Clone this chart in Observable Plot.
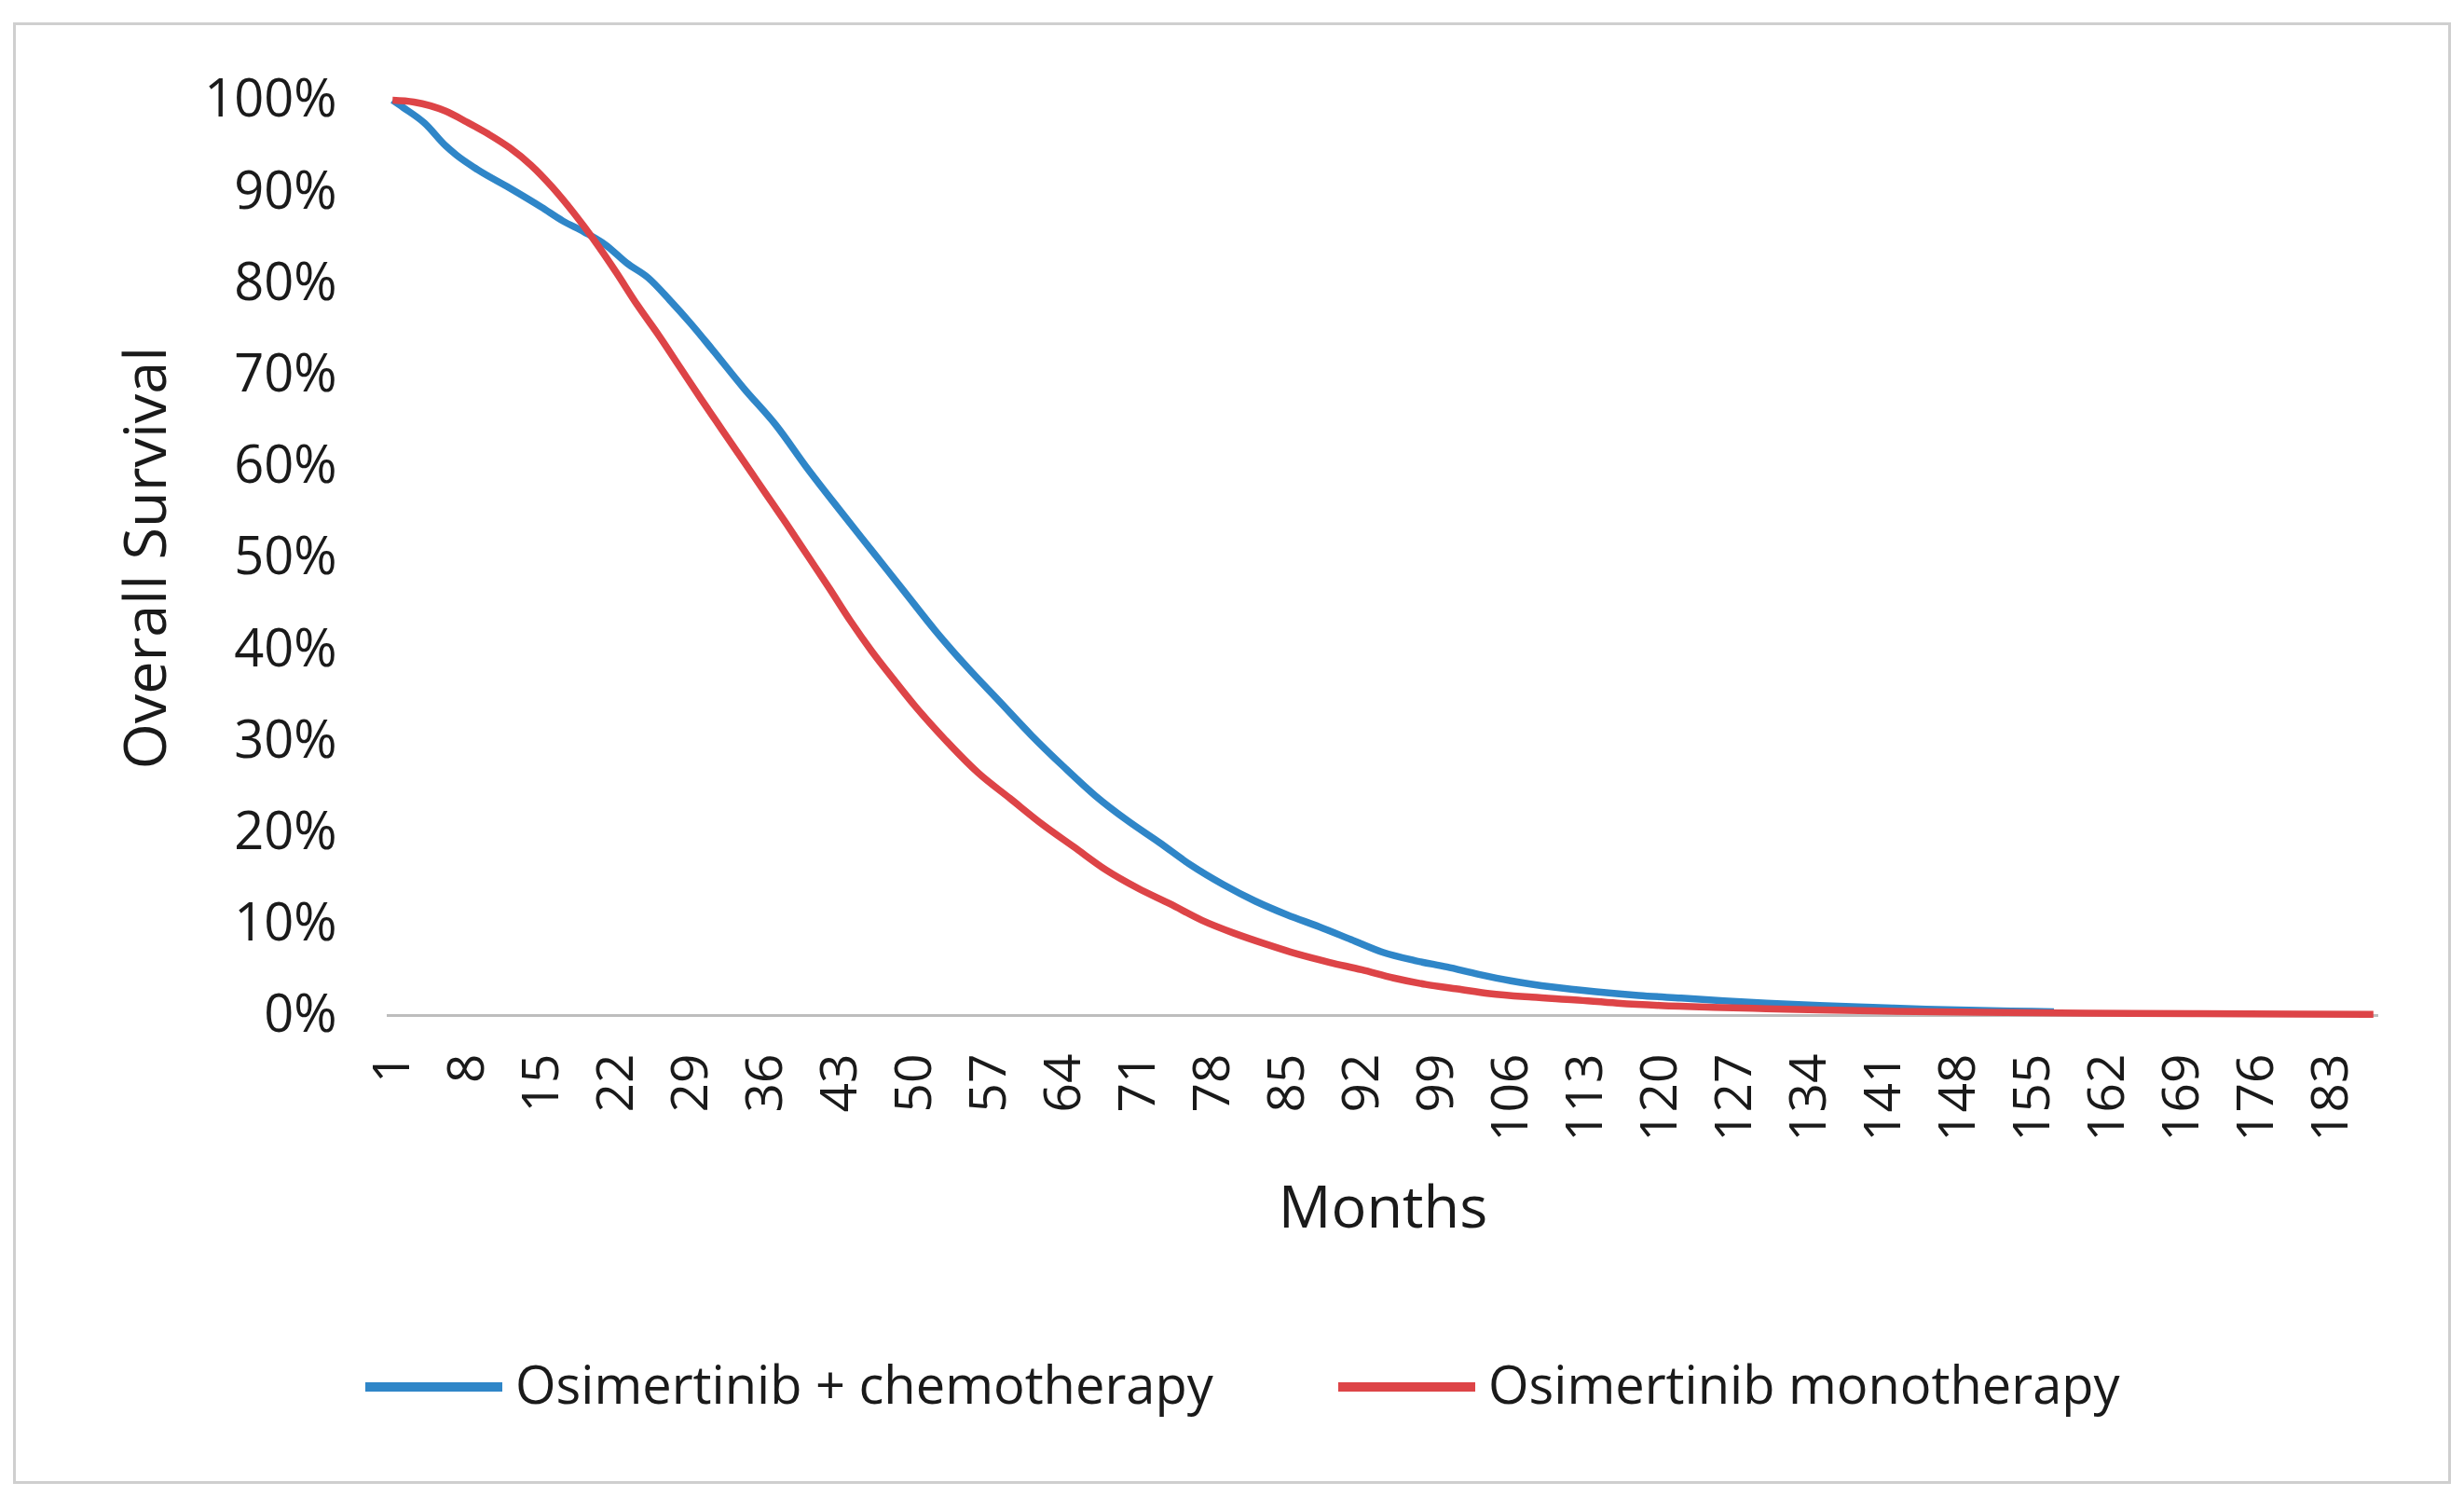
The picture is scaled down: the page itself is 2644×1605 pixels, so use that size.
<!DOCTYPE html>
<html><head><meta charset="utf-8">
<script src="https://cdn.jsdelivr.net/npm/d3@7"></script>
<script src="https://cdn.jsdelivr.net/npm/@observablehq/plot@0.6"></script>
<style>
html,body{margin:0;padding:0;background:#fff;}
#page{position:relative;width:2644px;height:1605px;overflow:hidden;font-family:"Open Sans",sans-serif;background:#fff;}
#frame{position:absolute;left:14px;top:24px;width:2616px;height:1568px;box-sizing:border-box;border:3px solid #cfcfcf;}
#chart{position:absolute;left:0;top:0;}
.lg-line{position:absolute;height:10px;width:147px;}
.lg-text{position:absolute;font-size:56px;line-height:56px;color:#1a1a1a;white-space:nowrap;font-family:"Open Sans",sans-serif;}
</style></head>
<body><div id="page"><div id="frame"></div><div id="chart"></div><div id="legend"></div></div>
<script>
const seriesNames = ["Osimertinib + chemotherapy", "Osimertinib monotherapy"];
const seriesColors = ["#2F86C8", "#DD4447"];
const xTitle = "Months";
const yTitle = "Overall Survival";
const xTickLabels = [1,8,15,22,29,36,43,50,57,64,71,78,85,92,99,106,113,120,127,134,141,148,155,162,169,176,183];
const yTickValues = [0,10,20,30,40,50,60,70,80,90,100];

const chemoMonths = [1,2,4,6,7,9,12,15,17,19,21,23,25,27,29,31,34,37,40,43,46,49,52,55,58,61,64,67,70,73,76,79,82,85,88,91,94,97,100,103,106,110,114,118,122,126,130,135,140,145,150,155,157];
const chemoOS =     [100,99.2,97.5,95.0,94.0,92.4,90.4,88.3,86.8,85.6,84.2,82.2,80.6,78.2,75.6,72.8,68.5,64.5,59.7,55.2,50.8,46.4,42.0,38.0,34.3,30.6,27.2,24.0,21.3,18.9,16.4,14.3,12.5,11.0,9.7,8.3,6.9,6.0,5.3,4.5,3.8,3.1,2.6,2.2,1.9,1.6,1.35,1.1,0.9,0.7,0.55,0.45,0.4];

const monoMonths = [1,3,6,8,10,12,14,16,18,20,22,24,26,28,30,32,34,36,38,40,42,44,46,48,50,53,56,59,62,65,68,71,74,77,80,83,86,89,92,95,98,101,104,108,112,116,120,125,130,135,140,150,160,170,180,187];
const monoOS =     [100,99.8,98.8,97.6,96.3,94.8,92.9,90.5,87.7,84.6,81.2,77.6,74.3,70.8,67.3,63.9,60.5,57.1,53.7,50.2,46.7,43.1,39.8,36.8,33.9,30.0,26.5,23.7,20.9,18.4,15.9,13.9,12.2,10.4,9.0,7.8,6.7,5.8,5.0,4.1,3.4,2.9,2.4,2.0,1.7,1.35,1.1,0.9,0.75,0.6,0.5,0.35,0.25,0.2,0.15,0.12];

const chemo = chemoMonths.map((m, i) => ({month: m, os: chemoOS[i]}));
const mono = monoMonths.map((m, i) => ({month: m, os: monoOS[i]}));

const chart = Plot.plot({
  width: 2644,
  height: 1400,
  marginLeft: 415,
  marginRight: 92,
  marginTop: 107,
  marginBottom: 311,
  style: {fontFamily: "Open Sans", fontSize: "56px", color: "#1a1a1a", background: "transparent", overflow: "visible"},
  x: {domain: [0.5, 187.5]},
  y: {domain: [0, 100]},
  marks: [
    Plot.ruleY([0], {stroke: "#bdbdbd", strokeWidth: 3}),
    Plot.line(chemo, {x: "month", y: "os", stroke: seriesColors[0], strokeWidth: 7.5, strokeLinecap: "butt", curve: "monotone-x"}),
    Plot.line(mono, {x: "month", y: "os", stroke: seriesColors[1], strokeWidth: 7.5, strokeLinecap: "butt", curve: "monotone-x"}),
    Plot.axisX({ticks: xTickLabels, tickSize: 0, tickPadding: 41, tickRotate: -90, label: null, fontSize: 55, fill: "#1a1a1a"}),
    Plot.axisY({ticks: yTickValues, tickFormat: d => d + "%", tickSize: 0, tickPadding: 54, label: null, fontSize: 56, fill: "#1a1a1a"}),
    Plot.text([yTitle], {text: d => d, frameAnchor: "left", textAnchor: "middle", rotate: -90, dx: -258, fontSize: 63, fill: "#1a1a1a"}),
    Plot.text([xTitle], {text: d => d, frameAnchor: "bottom", dy: 227, fontSize: 63, fill: "#1a1a1a"})
  ]
});
document.getElementById("chart").appendChild(chart);

const legend = document.getElementById("legend");
const legendX = [392, 1436];
seriesNames.forEach((name, i) => {
  const line = document.createElement("div");
  line.className = "lg-line";
  line.style.left = legendX[i] + "px";
  line.style.top = "1483px";
  line.style.background = seriesColors[i];
  legend.appendChild(line);
  const t = document.createElement("div");
  t.className = "lg-text";
  t.style.left = (legendX[i] + 161) + "px";
  t.style.top = "1456px";
  t.textContent = name;
  legend.appendChild(t);
});
</script>
</body></html>
